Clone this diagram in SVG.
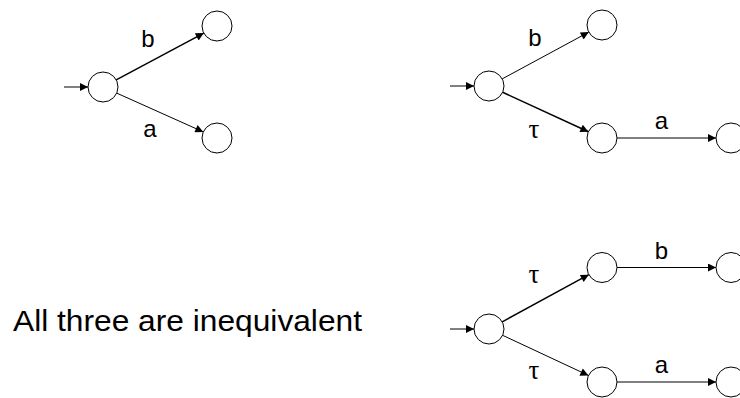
<svg xmlns="http://www.w3.org/2000/svg" width="740" height="398" viewBox="0 0 740 398">
<style>
.st{fill:#fff;stroke:#000;stroke-width:1}
.e{stroke:#000;fill:none}
.thick{stroke-width:1.5}
.thin{stroke-width:1}
.lbl{font-family:"Liberation Sans",Arial,sans-serif;font-size:24px;fill:#000;text-anchor:middle}
.tau{font-family:"Liberation Serif","Times New Roman",serif;font-size:27px;fill:#000;text-anchor:middle}
.cap{font-family:"Liberation Sans",Arial,sans-serif;font-size:30px;fill:#000}
</style>
<defs>
<marker id="ah" viewBox="0 0 10 10" refX="10" refY="5" markerWidth="11" markerHeight="8" markerUnits="userSpaceOnUse" orient="auto">
<path d="M0,0 L10,5 L0,10 z" fill="#000"/>
</marker>
</defs>
<rect width="740" height="398" fill="#fff"/>
<g id="connectors">
<line class="e thin" x1="64" y1="87" x2="88" y2="87" marker-end="url(#ah)"/>
<line class="e thick" x1="116.2" y1="79.9" x2="203.8" y2="33.1" marker-end="url(#ah)"/>
<line class="e thin" x1="116.7" y1="93.1" x2="203.3" y2="131.9" marker-end="url(#ah)"/>
<line class="e thin" x1="450" y1="86" x2="474" y2="86" marker-end="url(#ah)"/>
<line class="e thin" x1="502.2" y1="78.9" x2="588.8" y2="32.1" marker-end="url(#ah)"/>
<line class="e thick" x1="502.6" y1="92.3" x2="588.4" y2="131.7" marker-end="url(#ah)"/>
<line class="e thin" x1="617" y1="138" x2="716" y2="138" marker-end="url(#ah)"/>
<line class="e thin" x1="450" y1="329" x2="474" y2="329" marker-end="url(#ah)"/>
<line class="e thick" x1="502.2" y1="321.8" x2="588.8" y2="274.7" marker-end="url(#ah)"/>
<line class="e thin" x1="502.6" y1="335.3" x2="588.4" y2="375.4" marker-end="url(#ah)"/>
<line class="e thin" x1="617" y1="267.5" x2="716" y2="267.5" marker-end="url(#ah)"/>
<line class="e thin" x1="617" y1="382" x2="716" y2="382" marker-end="url(#ah)"/>
</g>
<g id="labels">
<text class="lbl" x="148" y="47">b</text>
<text class="lbl" x="150" y="137">a</text>
<text class="lbl" x="535" y="45.5">b</text>
<text class="tau" x="534" y="138">τ</text>
<text class="lbl" x="661.5" y="129">a</text>
<text class="tau" x="534" y="282.5">τ</text>
<text class="lbl" x="661.5" y="259">b</text>
<text class="tau" x="534" y="379">τ</text>
<text class="lbl" x="661.5" y="372.5">a</text>
</g>
<g id="n1a"><circle class="st" cx="103" cy="87" r="15"/></g>
<g id="n1b"><circle class="st" cx="217" cy="26" r="15"/></g>
<g id="n1c"><circle class="st" cx="217" cy="138" r="15"/></g>
<g id="n2a"><circle class="st" cx="489" cy="86" r="15"/></g>
<g id="n2b"><circle class="st" cx="602" cy="25" r="15"/></g>
<g id="n2c"><circle class="st" cx="602" cy="138" r="15"/></g>
<g id="n2d"><circle class="st" cx="731" cy="138" r="15"/></g>
<g id="n3a"><circle class="st" cx="489" cy="329" r="15"/></g>
<g id="n3b"><circle class="st" cx="602" cy="267.5" r="15"/></g>
<g id="n3c"><circle class="st" cx="602" cy="382" r="15"/></g>
<g id="n3d"><circle class="st" cx="731" cy="267.5" r="15"/></g>
<g id="n3e"><circle class="st" cx="731" cy="382" r="15"/></g>
<text id="caption" class="cap" x="13" y="331" textLength="349" lengthAdjust="spacingAndGlyphs">All three are inequivalent</text>
</svg>
